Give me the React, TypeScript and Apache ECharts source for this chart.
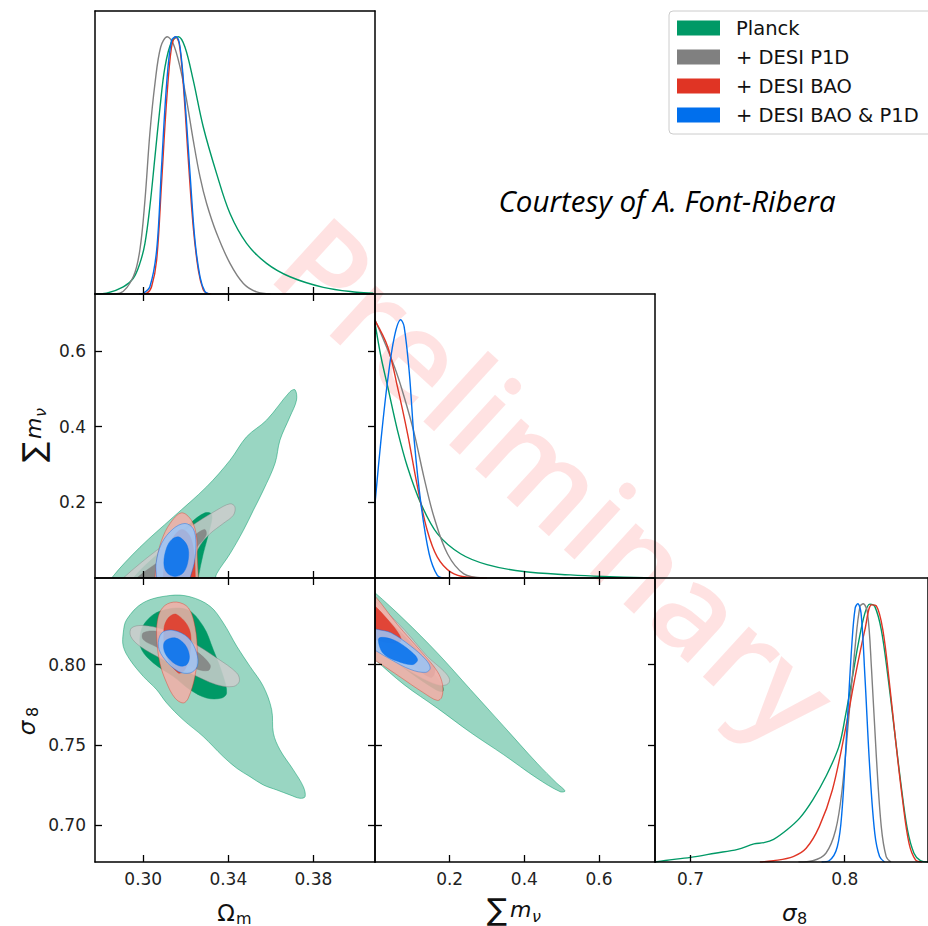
import React, { useEffect, useRef } from "react";
import * as echarts from "echarts";

// ---------------- data ----------------
const legendNames = ["Planck", "+ DESI P1D", "+ DESI BAO", "+ DESI BAO & P1D"];
const lineColors = ["#009966", "#808080", "#E03424", "#006FED"];
const outerFills = ["#99d6c2", "#cccccc", "#f3aea7", "#99c5f8"];
const fillOpacity = [1, 0.85, 0.85, 0.85];

const omRange = [0.2773, 0.409];
const mnuRange = [0, 0.75];
const s8Range = [0.677, 0.854];
const pdfRange = [0, 1.1];

const omTicks = [0.3, 0.34, 0.38];
const mnuTicks = [0.2, 0.4, 0.6];
const s8TicksY = [0.7, 0.75, 0.8];
const s8TicksX = [0.7, 0.8];

// 1D marginals (normalised to peak 1)
const omPlanck = [[0.278, 0], [0.2827, 0.003], [0.2906, 0.028], [0.2953, 0.061], [0.2984, 0.119], [0.3008, 0.197], [0.3031, 0.339], [0.3055, 0.533], [0.3079, 0.727], [0.3102, 0.882], [0.3133, 0.98], [0.3165, 1.0], [0.3196, 0.96], [0.3235, 0.831], [0.3282, 0.65], [0.3345, 0.468], [0.3408, 0.313], [0.3486, 0.197], [0.358, 0.119], [0.369, 0.067], [0.3847, 0.026], [0.4004, 0.007], [0.4082, 0.003]];
const omP1D = [[0.285, 0], [0.289, 0.003], [0.2953, 0.067], [0.2984, 0.171], [0.3008, 0.365], [0.3031, 0.624], [0.3055, 0.818], [0.3082, 0.96], [0.3113, 1.0], [0.3141, 0.973], [0.3173, 0.882], [0.3204, 0.753], [0.3235, 0.598], [0.3267, 0.455], [0.3298, 0.352], [0.3345, 0.236], [0.3408, 0.119], [0.3471, 0.041], [0.3533, 0.008], [0.36, 0]];
const omBAO = [[0.299, 0], [0.3016, 0.003], [0.3039, 0.028], [0.3063, 0.132], [0.3086, 0.43], [0.311, 0.753], [0.3133, 0.96], [0.3152, 1.0], [0.3169, 0.973], [0.3188, 0.818], [0.3212, 0.52], [0.3235, 0.261], [0.3259, 0.093], [0.3282, 0.016], [0.3298, 0.003], [0.332, 0]];
const omBoth = [[0.298, 0], [0.3, 0.003], [0.3031, 0.028], [0.3063, 0.171], [0.3086, 0.494], [0.311, 0.818], [0.3133, 0.986], [0.3154, 1.0], [0.3173, 0.96], [0.3196, 0.753], [0.322, 0.468], [0.3243, 0.21], [0.3267, 0.067], [0.329, 0.009], [0.331, 0]];

const mnuPlanck = [[0, 0.987], [0.016, 0.857], [0.034, 0.741], [0.06, 0.573], [0.087, 0.43], [0.123, 0.288], [0.167, 0.172], [0.229, 0.094], [0.3, 0.052], [0.398, 0.025], [0.523, 0.012], [0.611, 0.006], [0.75, 0.0]];
const mnuP1D = [[0, 1.0], [0.052, 0.818], [0.078, 0.702], [0.105, 0.56], [0.131, 0.391], [0.158, 0.236], [0.194, 0.094], [0.238, 0.016], [0.291, 0]];
const mnuBAO = [[0, 0.997], [0.034, 0.896], [0.06, 0.741], [0.087, 0.56], [0.114, 0.352], [0.14, 0.184], [0.167, 0.081], [0.203, 0.023], [0.247, 0.003], [0.3, 0]];
const mnuBoth = [[0, 0.288], [0.016, 0.534], [0.034, 0.767], [0.052, 0.935], [0.069, 1.0], [0.078, 0.974], [0.092, 0.793], [0.105, 0.534], [0.123, 0.288], [0.145, 0.094], [0.167, 0.01], [0.185, 0]];

const s8Planck = [[0.677, 0.0], [0.6837, 0.006], [0.7, 0.018], [0.7159, 0.034], [0.7306, 0.049], [0.7412, 0.07], [0.7476, 0.075], [0.7539, 0.088], [0.7624, 0.124], [0.7708, 0.17], [0.7793, 0.241], [0.7878, 0.331], [0.7962, 0.447], [0.8004, 0.564], [0.8047, 0.706], [0.8089, 0.849], [0.8131, 0.964], [0.8163, 0.999], [0.8195, 0.99], [0.8237, 0.9], [0.828, 0.719], [0.8322, 0.512], [0.8364, 0.305], [0.8407, 0.124], [0.8449, 0.034], [0.8491, 0.005], [0.854, 0]];
const s8P1D = [[0.77, 0], [0.7793, 0.005], [0.7878, 0.034], [0.7941, 0.124], [0.7983, 0.279], [0.8025, 0.551], [0.8068, 0.836], [0.8099, 0.99], [0.812, 1.0], [0.8148, 0.964], [0.8174, 0.745], [0.8205, 0.409], [0.8237, 0.137], [0.8269, 0.021], [0.83, 0]];
const s8BAO = [[0.745, 0], [0.7539, 0.005], [0.7666, 0.021], [0.775, 0.053], [0.7835, 0.137], [0.792, 0.279], [0.8004, 0.512], [0.8068, 0.719], [0.8131, 0.9], [0.8174, 0.996], [0.8205, 0.992], [0.8247, 0.9], [0.829, 0.693], [0.8332, 0.46], [0.8375, 0.241], [0.8417, 0.072], [0.8459, 0.008], [0.85, 0]];
const s8Both = [[0.785, 0], [0.7899, 0.005], [0.7952, 0.059], [0.7983, 0.202], [0.8015, 0.525], [0.8047, 0.849], [0.8068, 0.984], [0.8085, 1.0], [0.8106, 0.964], [0.8131, 0.719], [0.8163, 0.357], [0.8195, 0.111], [0.8226, 0.021], [0.8258, 0]];

// 2D contours: Omega_m vs sum m_nu
const omMnuPlanck68 = [[0.2953, -0.02], [0.2953, 0], [0.3094, 0.077], [0.322, 0.144], [0.329, 0.172], [0.3322, 0.168], [0.3311, 0.126], [0.3282, 0.064], [0.3259, 0], [0.3259, -0.02]];
const omMnuPlanck95 = [[0.284, -0.02], [0.2851, 0], [0.2984, 0.081], [0.3141, 0.161], [0.3298, 0.241], [0.3408, 0.311], [0.3486, 0.373], [0.358, 0.417], [0.369, 0.492], [0.3714, 0.497], [0.3721, 0.47], [0.369, 0.426], [0.3643, 0.364], [0.362, 0.303], [0.3565, 0.232], [0.3518, 0.179], [0.3471, 0.126], [0.3408, 0.064], [0.3345, 0.011], [0.3325, -0.02]];
const omMnuP1D95 = [[0.288, -0.02], [0.2906, 0], [0.3063, 0.073], [0.322, 0.135], [0.3345, 0.179], [0.3408, 0.196], [0.3431, 0.188], [0.3424, 0.166], [0.3376, 0.144], [0.3314, 0.117], [0.3267, 0.086], [0.3235, 0.046], [0.322, 0], [0.3215, -0.02]];
const omMnuP1D68 = [[0.295, -0.02], [0.2969, 0], [0.3126, 0.064], [0.3251, 0.117], [0.329, 0.128], [0.3295, 0.112], [0.325, 0.08], [0.32, 0.04], [0.318, 0], [0.3175, -0.02]];
const omMnuBAO95 = [[0.305, -0.02], [0.3055, 0], [0.3063, 0.046], [0.3086, 0.099], [0.3126, 0.144], [0.318, 0.172], [0.3227, 0.152], [0.3251, 0.108], [0.3254, 0.055], [0.3259, 0], [0.326, -0.02]];
const omMnuBAO68 = [[0.309, -0.02], [0.3094, 0], [0.3102, 0.05], [0.3133, 0.1], [0.318, 0.128], [0.322, 0.11], [0.324, 0.06], [0.3245, 0], [0.3246, -0.02]];
const omMnuBoth95 = [[0.3063, -0.02], [0.3063, 0], [0.306, 0.038], [0.3086, 0.091], [0.3141, 0.13], [0.3196, 0.144], [0.3235, 0.13], [0.3248, 0.091], [0.3239, 0.038], [0.322, 0], [0.3215, -0.02]];
const omMnuBoth68 = [[0.3169, 0.108], [0.3207, 0.085], [0.3212, 0.05], [0.319, 0.015], [0.3149, 0.004], [0.311, 0.015], [0.3097, 0.04], [0.311, 0.08], [0.3135, 0.102]];

// Omega_m vs sigma_8
const omS8Planck95 = [[0.2906, 0.8198], [0.2922, 0.8281], [0.3, 0.8386], [0.3126, 0.8431], [0.322, 0.8423], [0.3314, 0.8364], [0.3376, 0.8261], [0.344, 0.8114], [0.3502, 0.7989], [0.3565, 0.7864], [0.3604, 0.7719], [0.3612, 0.7573], [0.3643, 0.7469], [0.3706, 0.7344], [0.3753, 0.7239], [0.3761, 0.7177], [0.3737, 0.7167], [0.369, 0.7188], [0.3628, 0.7219], [0.3565, 0.725], [0.3502, 0.7302], [0.344, 0.7354], [0.3376, 0.7427], [0.3282, 0.7552], [0.3188, 0.7656], [0.311, 0.7761], [0.3063, 0.7844], [0.3, 0.7927], [0.2937, 0.8031], [0.2906, 0.8114]];
const omS8Planck68 = [[0.2985, 0.8177], [0.3008, 0.8261], [0.3078, 0.8333], [0.3204, 0.8344], [0.3282, 0.8239], [0.3329, 0.8094], [0.3376, 0.7927], [0.3392, 0.7823], [0.3369, 0.7792], [0.3298, 0.7792], [0.322, 0.7844], [0.3141, 0.7927], [0.3047, 0.8011], [0.2992, 0.8094]];
const omS8P1D95 = [[0.2945, 0.8229], [0.3, 0.8244], [0.3094, 0.8219], [0.322, 0.8146], [0.3345, 0.8042], [0.344, 0.7948], [0.3452, 0.7896], [0.3424, 0.7864], [0.3345, 0.7875], [0.322, 0.7948], [0.3094, 0.8031], [0.2985, 0.8114], [0.2941, 0.8177]];
const omS8P1D68 = [[0.3, 0.8198], [0.3063, 0.8208], [0.3157, 0.8167], [0.3251, 0.8083], [0.3314, 0.8], [0.3306, 0.7964], [0.3251, 0.7973], [0.3157, 0.8042], [0.3063, 0.811], [0.3, 0.8156]];
const omS8BAO95 = [[0.3157, 0.839], [0.3212, 0.8354], [0.3243, 0.8239], [0.3254, 0.8073], [0.3243, 0.7927], [0.3212, 0.7792], [0.3188, 0.7761], [0.3149, 0.7792], [0.311, 0.7886], [0.3078, 0.8011], [0.3063, 0.8177], [0.3071, 0.8302], [0.3102, 0.8369]];
const omS8BAO68 = [[0.3157, 0.8313], [0.3217, 0.8219], [0.322, 0.8073], [0.3196, 0.7969], [0.3165, 0.7948], [0.311, 0.8052], [0.3097, 0.8219], [0.3118, 0.8292]];
const omS8Both95 = [[0.3087, 0.8198], [0.3141, 0.8214], [0.3212, 0.8167], [0.3251, 0.8073], [0.3254, 0.799], [0.322, 0.7948], [0.3165, 0.7958], [0.3102, 0.8031], [0.3071, 0.8114]];
const omS8Both68 = [[0.3102, 0.8146], [0.3149, 0.8167], [0.3196, 0.8125], [0.3217, 0.8052], [0.3204, 0.8], [0.3165, 0.7994], [0.3118, 0.8042], [0.3097, 0.8094]];

// sum m_nu vs sigma_8
const mnuS8Planck95 = [[-0.02, 0.848], [0, 0.8448], [0.078, 0.8281], [0.167, 0.8073], [0.256, 0.7844], [0.345, 0.7615], [0.434, 0.7386], [0.487, 0.7261], [0.509, 0.7213], [0.496, 0.7208], [0.434, 0.7292], [0.345, 0.7438], [0.256, 0.7577], [0.167, 0.7729], [0.078, 0.7875], [0, 0.8031], [-0.02, 0.807]];
const mnuS8Planck68 = [[-0.02, 0.84], [0, 0.8365], [0.078, 0.8177], [0.149, 0.7969], [0.181, 0.7865], [0.181, 0.7833], [0.163, 0.7844], [0.096, 0.7948], [0, 0.8115], [-0.02, 0.815]];
const mnuS8P1D95 = [[-0.02, 0.843], [0, 0.8396], [0.078, 0.8219], [0.14, 0.8052], [0.185, 0.7958], [0.2, 0.7906], [0.192, 0.7875], [0.167, 0.7875], [0.114, 0.7931], [0.052, 0.8021], [0, 0.8115], [-0.02, 0.815]];
const mnuS8P1D68 = [[-0.02, 0.838], [0, 0.835], [0.07, 0.82], [0.13, 0.805], [0.16, 0.797], [0.15, 0.792], [0.1, 0.8], [0.04, 0.81], [0, 0.818], [-0.02, 0.821]];
const mnuS8BAO95 = [[-0.02, 0.846], [0, 0.8427], [0.06, 0.825], [0.123, 0.8083], [0.167, 0.7958], [0.181, 0.7875], [0.179, 0.7798], [0.167, 0.7777], [0.131, 0.7823], [0.078, 0.7906], [0.025, 0.799], [0, 0.8027], [-0.02, 0.806]];
const mnuS8BAO68 = [[-0.02, 0.84], [0, 0.8365], [0.034, 0.8281], [0.065, 0.8188], [0.069, 0.8146], [0.043, 0.8135], [0, 0.8156], [-0.02, 0.817]];
const mnuS8Both95 = [[-0.02, 0.823], [0.007, 0.8219], [0.043, 0.8198], [0.096, 0.8115], [0.136, 0.8031], [0.148, 0.7979], [0.136, 0.7952], [0.096, 0.7969], [0.043, 0.8031], [0.005, 0.8083], [-0.02, 0.812]];
const mnuS8Both68 = [[0.012, 0.8167], [0.052, 0.8152], [0.096, 0.8083], [0.114, 0.8031], [0.1, 0.8], [0.06, 0.8021], [0.025, 0.8063], [0.012, 0.8115]];

// ---------------- helpers ----------------
const FONT = "DejaVu Sans";
const frame = { color: "#000", width: 1.5 };
const tickLine = { color: "#000", width: 1.3 };

function edgeColor(i: number) {
  const c = lineColors[i];
  const r = parseInt(c.slice(1, 3), 16), g = parseInt(c.slice(3, 5), 16), b = parseInt(c.slice(5, 7), 16);
  return `rgba(${r},${g},${b},0.55)`;
}

function contour(points: number[][], fill: string, stroke: string, opacity: number, g: number, smooth = 0.35) {
  return {
    type: "custom",
    xAxisIndex: 2 * g,
    yAxisIndex: 2 * g,
    data: points,
    clip: true,
    silent: true,
    z: 2,
    renderItem: (params: any, api: any) => {
      if (params.dataIndex !== 0) return null;
      const pts = points.map((p) => api.coord(p));
      return {
        type: "polygon",
        shape: { points: pts, smooth },
        style: { fill, stroke, lineWidth: 0.9, opacity },
      };
    },
  };
}

function pdf(i: number, data: number[][], g: number) {
  return {
    type: "line",
    name: legendNames[i],
    xAxisIndex: 2 * g,
    yAxisIndex: 2 * g,
    data,
    color: lineColors[i],
    showSymbol: false,
    symbol: "none",
    smooth: 0.35,
    lineStyle: { color: lineColors[i], width: 1.4 },
    z: 3 + i * 0.01,
    silent: true,
  };
}

function xPair(g: number, range: number[], ticks: number[], labels: boolean, digits: number, topTicks: boolean) {
  const base = {
    type: "value",
    gridIndex: g,
    min: range[0],
    max: range[1],
    splitLine: { show: false },
    axisLine: { show: true, onZero: false, lineStyle: frame },
    z: 5,
  };
  return [
    {
      ...base,
      position: "bottom",
      axisTick: { show: true, inside: true, length: 7, lineStyle: tickLine, customValues: ticks },
      axisLabel: {
        show: labels,
        customValues: ticks,
        formatter: (v: number) => v.toFixed(digits),
        fontSize: 17,
        fontFamily: FONT,
        color: "#222",
        margin: 8,
      },
    },
    {
      ...base,
      position: "top",
      axisTick: { show: topTicks, inside: true, length: 7, lineStyle: tickLine, customValues: ticks },
      axisLabel: { show: false, customValues: ticks },
    },
  ];
}

function yPair(g: number, range: number[], ticks: number[] | null, labels: boolean, digits: number) {
  const base = {
    type: "value",
    gridIndex: g,
    min: range[0],
    max: range[1],
    splitLine: { show: false },
    axisLine: { show: true, onZero: false, lineStyle: frame },
    z: 5,
  };
  const t = ticks || [];
  return [
    {
      ...base,
      position: "left",
      axisTick: { show: !!ticks, inside: true, length: 7, lineStyle: tickLine, customValues: t },
      axisLabel: {
        show: labels,
        customValues: t,
        formatter: (v: number) => v.toFixed(digits),
        fontSize: 17,
        fontFamily: FONT,
        color: "#222",
        margin: 9,
      },
    },
    {
      ...base,
      position: "right",
      axisTick: { show: !!ticks, inside: true, length: 7, lineStyle: tickLine, customValues: t },
      axisLabel: { show: false, customValues: t },
    },
  ];
}

function buildOption() {
  const grids = [
    { left: 95, top: 11, width: 280, height: 283 },
    { left: 95, top: 294, width: 280, height: 284 },
    { left: 375, top: 294, width: 280, height: 284 },
    { left: 95, top: 578, width: 280, height: 284 },
    { left: 375, top: 578, width: 280, height: 284 },
    { left: 655, top: 578, width: 280, height: 284 },
  ];

  const xAxis = [
    ...xPair(0, omRange, omTicks, false, 2, false),
    ...xPair(1, omRange, omTicks, false, 2, true),
    ...xPair(2, mnuRange, mnuTicks, false, 1, false),
    ...xPair(3, omRange, omTicks, true, 2, true),
    ...xPair(4, mnuRange, mnuTicks, true, 1, true),
    ...xPair(5, s8Range, s8TicksX, true, 1, false),
  ];
  const yAxis = [
    ...yPair(0, pdfRange, null, false, 1),
    ...yPair(1, mnuRange, mnuTicks, true, 1),
    ...yPair(2, pdfRange, null, false, 1),
    ...yPair(3, s8Range, s8TicksY, true, 2),
    ...yPair(4, s8Range, s8TicksY, false, 2),
    ...yPair(5, pdfRange, null, false, 1),
  ];

  const twoD: [number, number[][][]][] = [
    [1, [omMnuPlanck95, omMnuPlanck68, omMnuP1D95, omMnuP1D68, omMnuBAO95, omMnuBAO68, omMnuBoth95, omMnuBoth68]],
    [3, [omS8Planck95, omS8Planck68, omS8P1D95, omS8P1D68, omS8BAO95, omS8BAO68, omS8Both95, omS8Both68]],
    [4, [mnuS8Planck95, mnuS8Planck68, mnuS8P1D95, mnuS8P1D68, mnuS8BAO95, mnuS8BAO68, mnuS8Both95, mnuS8Both68]],
  ];
  const series: any[] = [];
  twoD.forEach(([g, sets]) => {
    for (let i = 0; i < 4; i++) {
      series.push(contour(sets[2 * i], outerFills[i], edgeColor(i), fillOpacity[i], g));
      series.push(contour(sets[2 * i + 1], lineColors[i], edgeColor(i), fillOpacity[i], g));
    }
  });
  const om = [omPlanck, omP1D, omBAO, omBoth];
  const mnu = [mnuPlanck, mnuP1D, mnuBAO, mnuBoth];
  const s8 = [s8Planck, s8P1D, s8BAO, s8Both];
  for (let i = 0; i < 4; i++) {
    series.push(pdf(i, om[i], 0));
    series.push(pdf(i, mnu[i], 2));
    series.push(pdf(i, s8[i], 5));
  }

  const labelStyle = (size: number, italic = false) => ({
    fontSize: size,
    fontFamily: FONT,
    fontStyle: italic ? "italic" : "normal",
    fill: "#111",
    verticalAlign: "middle",
  });

  const graphic = [
    {
      type: "text",
      x: 558,
      y: 478,
      rotation: -0.74,
      z: 0,
      silent: true,
      style: {
        text: "Preliminary",
        fontSize: 126,
        fontWeight: 600,
        fontFamily: "Open Sans",
        fill: "rgba(255,0,0,0.115)",
        align: "center",
        verticalAlign: "middle",
      },
    },
    {
      type: "text",
      x: 667,
      y: 200,
      z: 6,
      style: {
        text: "Courtesy of A. Font-Ribera",
        fontSize: 29.5,
        fontStyle: "italic",
        fontFamily: "Open Sans",
        fill: "#000",
        align: "center",
        verticalAlign: "middle",
      },
    },
    // x label: Omega_m
    {
      type: "group",
      x: 0,
      y: 0,
      z: 6,
      children: [
        { type: "text", x: 226, y: 913, style: { ...labelStyle(23), text: "Ω", align: "center" } },
        { type: "text", x: 236, y: 918, style: { ...labelStyle(16), text: "m", align: "left" } },
      ],
    },
    // x label: sum m_nu
    {
      type: "group",
      x: 0,
      y: 0,
      z: 6,
      children: [
        { type: "text", x: 497, y: 909, style: { ...labelStyle(30), text: "∑", align: "center" } },
        { type: "text", x: 510, y: 909, style: { ...labelStyle(22, true), text: "m", align: "left" } },
        { type: "text", x: 532, y: 916, style: { ...labelStyle(16, true), text: "ν", align: "left" } },
      ],
    },
    // x label: sigma_8
    {
      type: "group",
      x: 0,
      y: 0,
      z: 6,
      children: [
        { type: "text", x: 782, y: 913, style: { ...labelStyle(23, true), text: "σ", align: "left" } },
        { type: "text", x: 797, y: 918, style: { ...labelStyle(16), text: "8", align: "left" } },
      ],
    },
    // y label: sum m_nu
    {
      type: "group",
      x: 33,
      y: 436,
      rotation: Math.PI / 2,
      z: 6,
      children: [
        { type: "text", x: -16, y: 0, style: { ...labelStyle(30), text: "∑", align: "center" } },
        { type: "text", x: -3, y: 0, style: { ...labelStyle(22, true), text: "m", align: "left" } },
        { type: "text", x: 19, y: 7, style: { ...labelStyle(16, true), text: "ν", align: "left" } },
      ],
    },
    // y label: sigma_8
    {
      type: "group",
      x: 27,
      y: 720,
      rotation: Math.PI / 2,
      z: 6,
      children: [
        { type: "text", x: -8, y: 0, style: { ...labelStyle(23, true), text: "σ", align: "center" } },
        { type: "text", x: 3, y: 5, style: { ...labelStyle(16), text: "8", align: "left" } },
      ],
    },
  ];

  return {
    animation: false,
    backgroundColor: "#fff",
    grid: grids,
    xAxis,
    yAxis,
    series,
    graphic,
    legend: {
      data: legendNames,
      orient: "vertical",
      left: 669,
      top: 11,
      icon: "rect",
      itemWidth: 43,
      itemHeight: 15,
      itemGap: 9,
      selectedMode: false,
      backgroundColor: "#fff",
      borderColor: "#cccccc",
      borderWidth: 1,
      borderRadius: 4,
      padding: [7, 22, 9, 8],
      textStyle: { fontSize: 19.5, fontFamily: FONT, color: "#111", lineHeight: 20, padding: [0, 0, 0, 11] },
      z: 10,
    },
  };
}

export default function App() {
  const ref = useRef<HTMLDivElement | null>(null);
  useEffect(() => {
    if (!ref.current) return;
    const chart = echarts.init(ref.current, undefined, { renderer: "svg" });
    chart.setOption(buildOption() as any);
    return () => chart.dispose();
  }, []);
  return (
    <div
      ref={ref}
      style={{ position: "absolute", left: 0, top: 0, width: 928, height: 926, background: "#fff" }}
    />
  );
}
